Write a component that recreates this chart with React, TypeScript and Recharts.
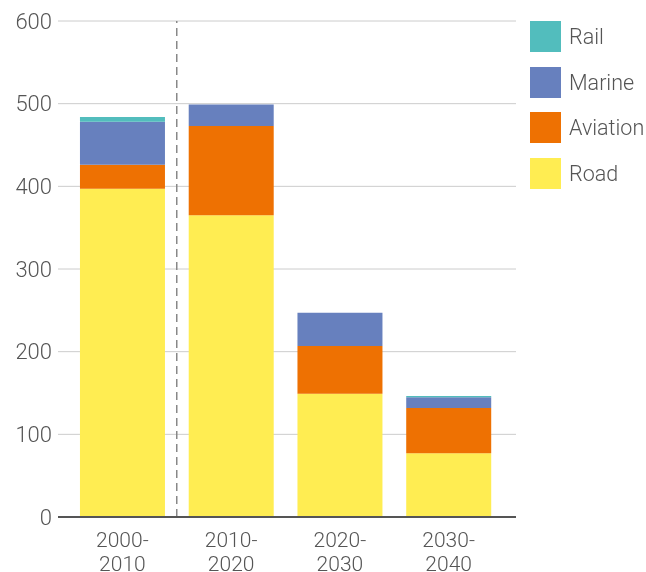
import {
  BarChart,
  Bar,
  XAxis,
  YAxis,
  CartesianGrid,
  Legend,
  ReferenceLine,
} from "recharts";

const periods = ["2000-2010", "2010-2020", "2020-2030", "2030-2040"];
const road = [397, 365, 149, 77];
const aviation = [29, 108, 58, 55];
const marine = [52, 26, 40, 13];
const rail = [6, 0, 0, 1.5];
const yTicks = [0, 100, 200, 300, 400, 500, 600];

const series = [
  { key: "road", name: "Road", color: "#FFED52" },
  { key: "aviation", name: "Aviation", color: "#EE7102" },
  { key: "marine", name: "Marine", color: "#6780BE" },
  { key: "rail", name: "Rail", color: "#52BDBD" },
];

const data = periods.map((p, i) => ({
  period: p,
  road: road[i],
  aviation: aviation[i],
  marine: marine[i],
  rail: rail[i],
}));

const FONT = "Roboto, 'Helvetica Neue', Arial, sans-serif";

function PeriodTick(props: any) {
  const { x, y, payload } = props;
  const [a, b] = String(payload.value).split("-");
  return (
    <text
      x={x}
      y={y}
      textAnchor="middle"
      fill="#555"
      fontSize={21}
      fontWeight={300}
      fontFamily={FONT}
    >
      <tspan x={x} dy={22}>
        {a}-
      </tspan>
      <tspan x={x} dy={24}>
        {b}
      </tspan>
    </text>
  );
}

function SideLegend() {
  const items = [...series].reverse();
  return (
    <div style={{ fontFamily: FONT }}>
      {items.map((s) => (
        <div
          key={s.key}
          style={{ display: "flex", alignItems: "center", height: 45.5 }}
        >
          <div
            style={{ width: 31, height: 31, background: s.color, marginRight: 8, flexShrink: 0 }}
          />
          <span style={{ fontSize: 21.5, fontWeight: 300, color: "#555", whiteSpace: "nowrap" }}>
            {s.name}
          </span>
        </div>
      ))}
    </div>
  );
}

export default function App() {
  // fixed so the page never gets scrollbars
  return (
    <div style={{ position: "fixed", left: 0, top: 0, width: 646, height: 572 }}>
      <BarChart
        width={646}
        height={572}
        data={data}
        margin={{ top: 21, right: 14, bottom: 5, left: 8 }}
        barCategoryGap="11%"
        style={{ overflow: "visible" }}
      >
        <CartesianGrid vertical={false} stroke="#cccccc" strokeWidth={1} />
        <XAxis
          dataKey="period"
          padding={{ left: 10, right: 13 }}
          axisLine={{ stroke: "#555", strokeWidth: 2 }}
          tickLine={false}
          height={50}
          tick={<PeriodTick />}
          interval={0}
        />
        <YAxis
          width={50}
          domain={[0, 600]}
          ticks={yTicks}
          axisLine={false}
          tickLine={false}
          tickSize={0}
          tickMargin={6}
          tick={{ fill: "#555", fontSize: 22, fontWeight: 300, fontFamily: FONT }}
        />
        <ReferenceLine
          x="2010-2020"
          position="start"
          stroke="#888"
          strokeWidth={1.5}
          strokeDasharray="8 5"
        />
        <Legend
          layout="vertical"
          verticalAlign="top"
          align="right"
          content={<SideLegend />}
          wrapperStyle={{ left: 530, top: 14, width: 116 }}
        />
        {series.map((s) => (
          <Bar
            key={s.key}
            dataKey={s.key}
            name={s.name}
            stackId="a"
            fill={s.color}
            isAnimationActive={false}
          />
        ))}
      </BarChart>
    </div>
  );
}
